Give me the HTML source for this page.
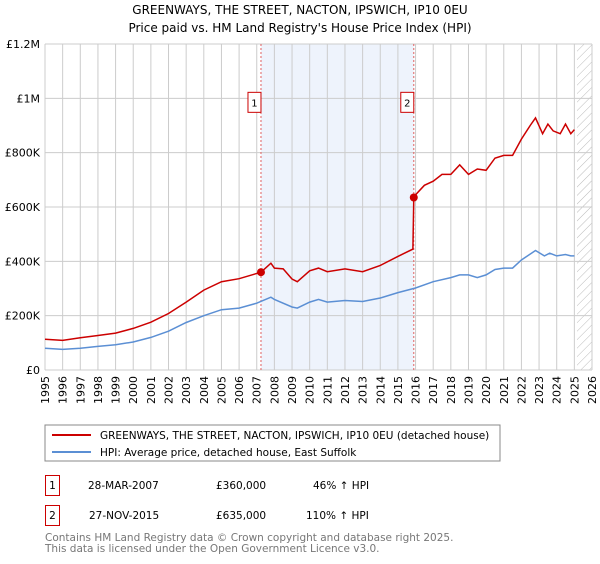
<!DOCTYPE html>
<html><head><meta charset="utf-8"><style>
body{margin:0;background:#fff;font-family:"DejaVu Sans","Liberation Sans",sans-serif;}
svg text{font-family:"DejaVu Sans","Liberation Sans",sans-serif;}
</style></head><body>
<svg id="c" width="600" height="560" xmlns="http://www.w3.org/2000/svg">
<defs><pattern id="hatch" width="6" height="6" patternUnits="userSpaceOnUse" patternTransform="rotate(45)"><line x1="0" y1="0" x2="0" y2="6" stroke="#bbb" stroke-width="1"/></pattern></defs>
<text x="300" y="14" text-anchor="middle" font-size="12">GREENWAYS, THE STREET, NACTON, IPSWICH, IP10 0EU</text>
<text x="300" y="32" text-anchor="middle" font-size="12">Price paid vs. HM Land Registry's House Price Index (HPI)</text>
<g id="plot"></g>
<rect x="45" y="425" width="455" height="36" fill="#fff" stroke="#888"/>
<line x1="52" y1="435" x2="91" y2="435" stroke="#cc0000" stroke-width="2"/>
<text x="100" y="439" font-size="10.5">GREENWAYS, THE STREET, NACTON, IPSWICH, IP10 0EU (detached house)</text>
<line x1="52" y1="452" x2="91" y2="452" stroke="#5b8fd4" stroke-width="2"/>
<text x="100" y="456" font-size="10.5">HPI: Average price, detached house, East Suffolk</text>
<g>
<rect x="45.5" y="475.5" width="14" height="20" fill="#fff" stroke="#cc0000"/>
<text x="52.5" y="489" text-anchor="middle" font-size="10.5">1</text>
<text x="88" y="489" font-size="10.5">28-MAR-2007</text>
<text x="216" y="489" font-size="10.5">£360,000</text>
<text x="313" y="489" font-size="10.5">46% ↑ HPI</text></g>
<g>
<rect x="45.5" y="505.5" width="14" height="20" fill="#fff" stroke="#cc0000"/>
<text x="52.5" y="519" text-anchor="middle" font-size="10.5">2</text>
<text x="89" y="519" font-size="10.5">27-NOV-2015</text>
<text x="216" y="519" font-size="10.5">£635,000</text>
<text x="306" y="519" font-size="10.5">110% ↑ HPI</text></g>
<text x="45" y="541" font-size="10.5" fill="#777">Contains HM Land Registry data © Crown copyright and database right 2025.</text>
<text x="45" y="552" font-size="10.5" fill="#777">This data is licensed under the Open Government Licence v3.0.</text>
</svg>
<script>
const yearTicks=[1995,1996,1997,1998,1999,2000,2001,2002,2003,2004,2005,2006,2007,2008,2009,2010,2011,2012,2013,2014,2015,2016,2017,2018,2019,2020,2021,2022,2023,2024,2025,2026];
const yTicks=[0,200000,400000,600000,800000,1000000,1200000];
const yTickLabels=["£0","£200K","£400K","£600K","£800K","£1M","£1.2M"];
const propT=[1995,1996,1997,1998,1999,2000,2001,2002,2003,2004,2005,2006,2007.24,2007.8,2008,2008.5,2009,2009.3,2010,2010.5,2011,2012,2013,2014,2015,2015.85,2015.9,2016,2016.5,2017,2017.5,2018,2018.5,2019,2019.5,2020,2020.5,2021,2021.5,2022,2022.5,2022.8,2023.2,2023.5,2023.8,2024.2,2024.5,2024.8,2025];
const propV=[113000,109000,119000,127000,136000,153000,176000,208000,250000,294000,325000,336000,360000,393000,375000,372000,335000,325000,365000,375000,362000,372000,362000,385000,418000,445000,635000,645000,680000,695000,720000,720000,755000,720000,740000,735000,780000,790000,790000,850000,900000,928000,870000,905000,880000,870000,905000,870000,885000];
const hpiT=[1995,1996,1997,1998,1999,2000,2001,2002,2003,2004,2005,2006,2007,2007.8,2008,2009,2009.3,2010,2010.5,2011,2012,2013,2014,2015,2016,2017,2018,2018.5,2019,2019.5,2020,2020.5,2021,2021.5,2022,2022.8,2023.3,2023.6,2024,2024.5,2024.8,2025];
const hpiV=[80000,76000,80000,87000,93000,103000,120000,143000,175000,200000,222000,228000,246000,268000,260000,232000,228000,250000,260000,250000,256000,252000,265000,285000,302000,325000,340000,350000,350000,340000,350000,370000,375000,375000,405000,440000,420000,430000,420000,425000,420000,420000];
const saleT=[2007.24,2015.9];
const saleV=[360000,635000];
const saleLabels=["1","2"];
const X0=45,X1=592,Y0=370,Y1=44;
const x=t=>X0+(t-1995)/(2026-1995)*(X1-X0);
const y=v=>Y0-v/1200000*(Y0-Y1);
const NS="http://www.w3.org/2000/svg",g=document.getElementById('plot');
function mk(tag,a,p){const e=document.createElementNS(NS,tag);for(const k in a)e.setAttribute(k,a[k]);(p||g).appendChild(e);return e;}
const sh=mk('rect',{x:x(saleT[0]),y:Y1,width:x(saleT[1])-x(saleT[0]),height:Y0-Y1,fill:'#eef3fc'});


const ht=mk('rect',{x:x(2025.15),y:Y1,width:X1-x(2025.15),height:Y0-Y1,fill:'url(#hatch)'});


yearTicks.forEach(t=>{const l=mk('line',{x1:x(t),x2:x(t),y1:Y1,y2:Y0,stroke:'#ccc'});


const tx=mk('text',{x:0,y:0,'font-size':11,'text-anchor':'end',transform:`translate(${x(t)+4},${Y0+6}) rotate(-90)`});tx.textContent=t;

});
yTicks.forEach((v,i)=>{const l=mk('line',{x1:X0,x2:X1,y1:y(v),y2:y(v),stroke:'#ccc'});


const tx=mk('text',{x:X0-5,y:y(v)+4,'font-size':11,'text-anchor':'end'});tx.textContent=yTickLabels[i];

});
saleT.forEach((t,i)=>{const l=mk('line',{x1:x(t),x2:x(t),y1:Y1,y2:Y0,stroke:'#e06060','stroke-dasharray':'2,2'});


const r=mk('rect',{x:x(t)-13,y:y(1000000)-6,width:13,height:20,fill:'#fff',stroke:'#cc0000'});


const tx=mk('text',{x:x(t)-6.5,y:y(1000000)+8,'font-size':10,'text-anchor':'middle'});tx.textContent=saleLabels[i];

});
const pts=(T,V)=>T.map((t,i)=>x(t).toFixed(1)+','+y(V[i]).toFixed(1)).join(' ');
const hl=mk('polyline',{points:pts(hpiT,hpiV),fill:'none',stroke:'#5b8fd4','stroke-width':1.5});


const pl=mk('polyline',{points:pts(propT,propV),fill:'none',stroke:'#cc0000','stroke-width':1.5});


saleT.forEach((t,i)=>{const c=mk('circle',{cx:x(t),cy:y(saleV[i]),r:4,fill:'#cc0000'});

});
</script>
</body></html>
